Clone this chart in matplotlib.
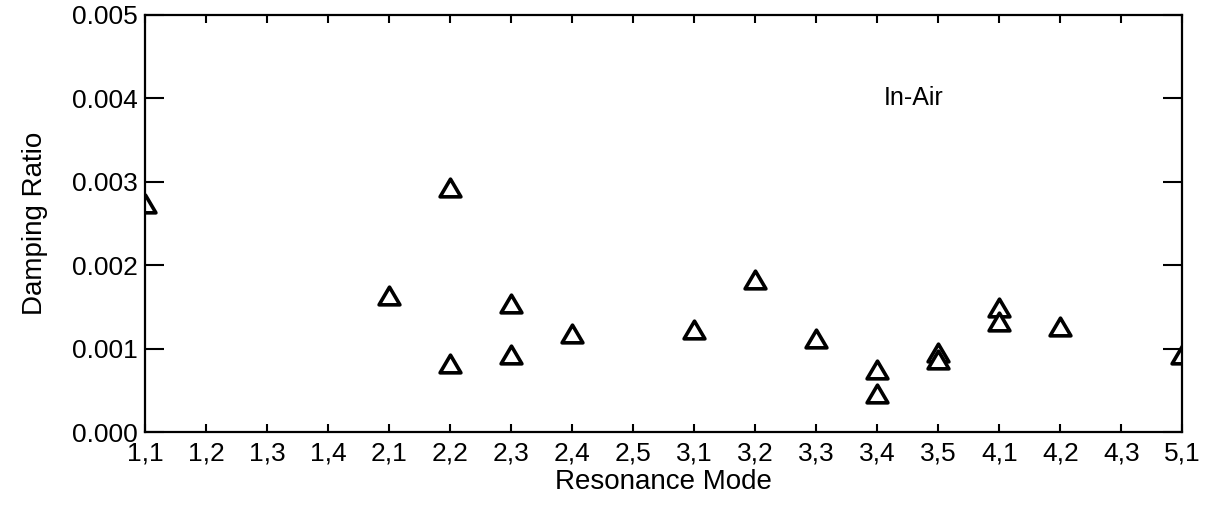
import matplotlib
matplotlib.use("Agg")
import matplotlib.pyplot as plt
from matplotlib.path import Path

# Resonance modes along the x axis
modes = ["1,1", "1,2", "1,3", "1,4", "2,1", "2,2", "2,3", "2,4", "2,5",
         "3,1", "3,2", "3,3", "3,4", "3,5", "4,1", "4,2", "4,3", "5,1"]

# measured points (mode label, damping ratio)
point_modes = ["1,1", "2,1", "2,2", "2,2", "2,3", "2,3", "2,4", "3,1", "3,2",
               "3,3", "3,4", "3,4", "3,5", "3,5", "4,1", "4,1", "4,2", "5,1"]
damping = [0.00273, 0.00163, 0.00293, 0.00082, 0.00153, 0.00093, 0.00117,
           0.00122, 0.00182, 0.00112, 0.00075, 0.00046, 0.00095, 0.00086,
           0.00149, 0.00132, 0.00126, 0.00093]

plt.rcParams['font.family'] = ['Liberation Sans', 'DejaVu Sans']

fig = plt.figure(figsize=(12.09, 5.12), dpi=100)
ax = fig.add_axes([0.12, 0.156, 0.858, 0.815])

xs = [modes.index(m) for m in point_modes]
# slightly squat open triangle, like the original plot symbol
tri = Path([(-1.0, -0.8), (1.0, -0.8), (0.0, 0.9), (-1.0, -0.8)], closed=True)
ax.plot(xs, damping, linestyle='none', marker=tri, markersize=15,
        markerfacecolor='white', markeredgecolor='black', markeredgewidth=2.6,
        clip_on=True)

ax.set_xlim(0, len(modes) - 1)
ax.set_ylim(0, 0.005)
ax.set_xticks(range(len(modes)))
ax.set_xticklabels(modes)
ax.set_yticks([0.000, 0.001, 0.002, 0.003, 0.004, 0.005])
ax.set_yticklabels(["0.000", "0.001", "0.002", "0.003", "0.004", "0.005"])

ax.tick_params(axis='y', direction='in', length=14, width=1.5, labelsize=19,
               left=True, right=True, pad=5.5)
ax.tick_params(axis='x', direction='in', length=6, width=1.5, labelsize=19,
               top=True, bottom=True, pad=7)
for sp in ax.spines.values():
    sp.set_linewidth(1.6)

ax.set_xlabel("Resonance Mode", fontsize=20, labelpad=2)
ax.set_ylabel("Damping Ratio", fontsize=20, labelpad=17)
ax.text(12.1, 0.004, "In-Air", fontsize=18, va='center', ha='left')

fig.savefig("out.png", dpi=100)
